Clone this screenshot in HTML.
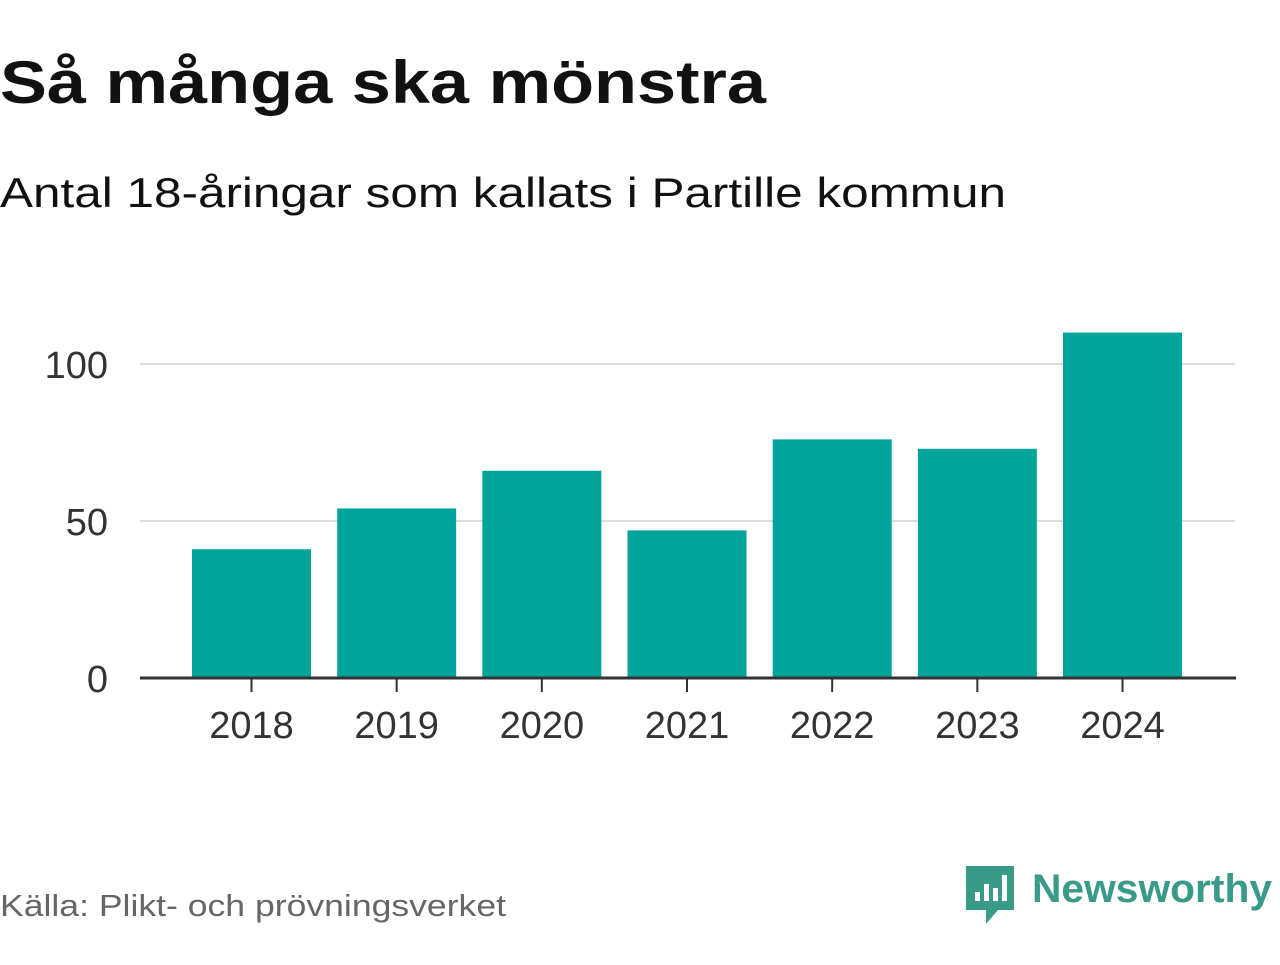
<!DOCTYPE html>
<html><head><meta charset="utf-8"><style>
body{margin:0;background:#fff;width:1280px;height:960px;overflow:hidden;font-family:"Liberation Sans",sans-serif}
</style></head><body>
<svg width="1280" height="960" xmlns="http://www.w3.org/2000/svg">
<text x="0" y="103" font-size="60" font-weight="bold" fill="#111" textLength="766" lengthAdjust="spacingAndGlyphs">Så många ska mönstra</text>
<text x="0" y="207" font-size="42" fill="#111" textLength="1006" lengthAdjust="spacingAndGlyphs">Antal 18-åringar som kallats i Partille kommun</text>
<g id="grid"></g>
<g id="bars"></g>
<g id="axes"></g>
<text x="0" y="916" font-size="31" fill="#666" textLength="506" lengthAdjust="spacingAndGlyphs">Källa: Plikt- och prövningsverket</text>
<g>
<path d="M966 866 h48 v44 h-16 l-12 14 v-14 h-20 z" fill="#3a9a8a"/>
<rect x="975" y="892" width="5" height="9" fill="#fff"/>
<rect x="984" y="884" width="5" height="17" fill="#fff"/>
<rect x="993" y="888" width="5" height="13" fill="#fff"/>
<rect x="1002" y="875" width="5" height="26" fill="#fff"/>
<text x="1032" y="902" font-size="40" font-weight="bold" fill="#3a9a8a" textLength="240" lengthAdjust="spacingAndGlyphs">Newsworthy</text>
</g>
</svg>
<script>
const years=["2018","2019","2020","2021","2022","2023","2024"];
const values=[41,54,66,47,76,73,110];
const yTicks=[0,50,100];
const NS="http://www.w3.org/2000/svg";
const y=v=>678-v*3.14;
const x=i=>251.5+i*145.17;
function mk(t,a,p){const e=document.createElementNS(NS,t);for(const k in a)e.setAttribute(k,a[k]);p.appendChild(e);return e;}
const grid=document.getElementById('grid'),bars=document.getElementById('bars'),axes=document.getElementById('axes');
yTicks.forEach(v=>{
  if(v>0){const l=mk('line',{x1:140,x2:1235,y1:y(v),y2:y(v),stroke:'#ddd','stroke-width':2},grid);
  
  }
  const t=mk('text',{x:108,y:y(v)+14,'font-size':38,fill:'#333','text-anchor':'end'},axes);t.textContent=v;
  
  
});
values.forEach((v,i)=>{
  const r=mk('rect',{x:x(i)-59.5,y:y(v),width:119,height:678-y(v),fill:'#00a499'},bars);
  
  
  mk('line',{x1:x(i),x2:x(i),y1:678,y2:692,stroke:'#333','stroke-width':2},axes);
  const t=mk('text',{x:x(i),y:738,'font-size':38,fill:'#333','text-anchor':'middle'},axes);t.textContent=years[i];
  
  
});
const ax=mk('line',{x1:140,x2:1236,y1:678,y2:678,stroke:'#333','stroke-width':3},axes);


</script>
</body></html>
